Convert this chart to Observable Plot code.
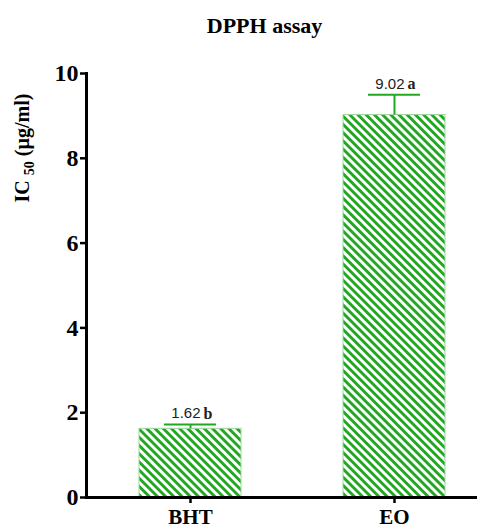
<!DOCTYPE html>
<html>
<head>
<meta charset="utf-8">
<script src="https://cdn.jsdelivr.net/npm/d3@7"></script>
<script src="https://cdn.jsdelivr.net/npm/@observablehq/plot@0.6"></script>
<style>
  body { margin: 0; background: #fff; }
  #title { height: 50px; line-height: 52px; text-align: center; font-family: "Liberation Serif", serif; font-weight: bold; font-size: 22px; padding-left: 52px; box-sizing: border-box; width: 477px; }
</style>
</head>
<body>
<div id="title">DPPH assay</div>
<div id="chart"></div>
<script>
const categories = ["BHT", "EO"];
const values = [1.62, 9.02];
const errors = [0.1, 0.48];
const letters = ["b", "a"];
const yTicks = [0, 2, 4, 6, 8, 10];

const data = categories.map((c, i) => ({cat: c, value: values[i], upper: values[i] + errors[i], label: values[i].toFixed(2), letter: letters[i]}));

const green = "#22a722";
const serif = "Liberation Serif, serif";

const plot = Plot.plot({
  width: 477,
  height: 480,
  marginTop: 23,
  marginBottom: 33,
  marginLeft: 86,
  marginRight: 0,
  style: {fontFamily: serif, background: "#fff"},
  x: {domain: categories, range: [138, 445], paddingInner: 0.5, paddingOuter: 0, label: null},
  y: {domain: [0, 10], label: null},
  marks: [
    Plot.barY(data, {x: "cat", y: "value", fill: "url(#hatch)", stroke: "#9bd89b", strokeWidth: 1}),
    Plot.ruleX(data, {x: "cat", y1: "value", y2: "upper", stroke: green, strokeWidth: 2}),
    Plot.tickY(data, {x: "cat", y: "upper", stroke: green, strokeWidth: 2, insetLeft: 25, insetRight: 25}),
    Plot.text(data, {x: "cat", y: "upper", text: "label", dy: -11, dx: 10, textAnchor: "end", fontFamily: "Liberation Sans, sans-serif", fontSize: 15, fill: "#222"}),
    Plot.text(data, {x: "cat", y: "upper", text: "letter", dy: -11, dx: 13, textAnchor: "start", fontFamily: serif, fontWeight: "bold", fontSize: 16, fill: "#222"}),
    Plot.axisY({ticks: yTicks, tickSize: 6, tickPadding: 2, fontSize: 24, fontWeight: "bold", stroke: "#000", strokeWidth: 2.5, label: null, fill: "#000"}),
    Plot.axisX({tickSize: 6, tickPadding: 6, fontSize: 21, fontWeight: "bold", stroke: "#000", strokeWidth: 2.5, label: null, fill: "#000"}),
    Plot.ruleY([0], {stroke: "#000", strokeWidth: 3}),
    Plot.frame({anchor: "left", stroke: "#000", strokeWidth: 3})
  ]
});

const svg = d3.select(plot);

const defs = svg.insert("defs", ":first-child");
const pat = defs.append("pattern")
  .attr("id", "hatch")
  .attr("patternUnits", "userSpaceOnUse")
  .attr("width", 5.8)
  .attr("height", 5.8)
  .attr("patternTransform", "rotate(45)");
pat.append("rect").attr("width", 5.8).attr("height", 5.8).attr("fill", "#fff");
pat.append("rect").attr("width", 5.8).attr("height", 2.9).attr("fill", green);

const lab = svg.append("text")
  .attr("transform", "translate(29,98) rotate(-90)")
  .attr("text-anchor", "middle")
  .attr("font-family", serif)
  .attr("font-weight", "bold")
  .attr("font-size", 20)
  .attr("fill", "#000");
lab.append("tspan").text("IC ");
lab.append("tspan").attr("font-size", 14).attr("dy", 5).text("50");
lab.append("tspan").attr("dy", -5).text(" (\u00b5g/ml)");

document.getElementById("chart").appendChild(plot);
</script>
</body>
</html>
